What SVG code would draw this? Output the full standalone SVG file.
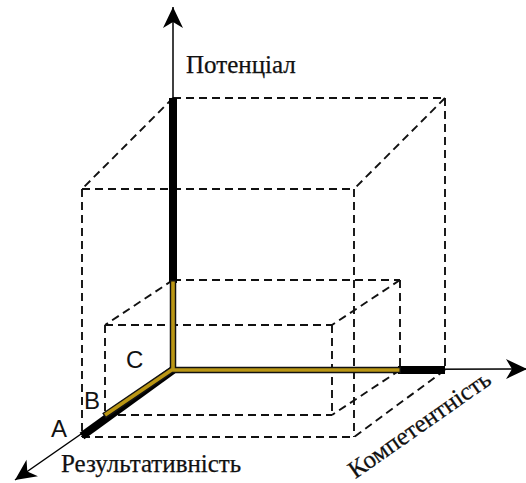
<svg xmlns="http://www.w3.org/2000/svg" width="526" height="483" viewBox="0 0 526 483">
<style>
.dash{fill:none;stroke:#111;stroke-width:1.9;stroke-dasharray:8 5}
.axis{fill:none;stroke:#000;stroke-width:1.5}
.thick{fill:none;stroke:#000;stroke-width:8;stroke-linecap:butt}
.goldo{fill:none;stroke:#111;stroke-width:6.5;stroke-linejoin:miter}
.gold{fill:none;stroke:#BA9614;stroke-width:3.6;stroke-linejoin:miter}
.lab{font-family:'Liberation Serif',serif;font-size:25px;fill:#111;stroke:#111;stroke-width:0.25}
.let{font-family:'Liberation Sans',Arial,sans-serif;font-size:24px;fill:#111}
</style>
<defs>
<marker id="arr" markerUnits="userSpaceOnUse" markerWidth="24" markerHeight="24" viewBox="-22 -11 24 22" refX="0" refY="0" orient="auto">
<path d="M0,0 L-21,-10 L-15,0 L-21,10 Z" fill="#000"/>
</marker>
</defs>
<g id="big-box">
<line class="dash" x1="173" y1="98" x2="445" y2="98"/>
<line class="dash" x1="445" y1="98" x2="445" y2="370"/>
<line class="dash" x1="173" y1="98" x2="82" y2="189"/>
<line class="dash" x1="445" y1="98" x2="354" y2="189"/>
<line class="dash" x1="445" y1="370" x2="354" y2="437"/>
<line class="dash" x1="82" y1="189" x2="354" y2="189"/>
<line class="dash" x1="354" y1="189" x2="354" y2="437"/>
<line class="dash" x1="82" y1="189" x2="82" y2="437"/>
<line class="dash" x1="82" y1="437" x2="354" y2="437"/>
</g>
<g id="small-box">
<line class="dash" x1="173" y1="280" x2="400" y2="280"/>
<line class="dash" x1="400" y1="280" x2="400" y2="370"/>
<line class="dash" x1="173" y1="280" x2="105" y2="325"/>
<line class="dash" x1="400" y1="280" x2="332" y2="325"/>
<line class="dash" x1="400" y1="370" x2="332" y2="415"/>
<line class="dash" x1="105" y1="325" x2="332" y2="325"/>
<line class="dash" x1="332" y1="325" x2="332" y2="415"/>
<line class="dash" x1="105" y1="325" x2="105" y2="415"/>
<line class="dash" x1="105" y1="415" x2="332" y2="415"/>
</g>
<g id="connectors">
<line class="axis" x1="173" y1="370" x2="173" y2="7" marker-end="url(#arr)"/>
<line class="axis" x1="173" y1="370" x2="527" y2="369" marker-end="url(#arr)"/>
<line class="axis" x1="173" y1="370" x2="15" y2="480" marker-end="url(#arr)"/>
<line class="thick" x1="173" y1="98" x2="173" y2="283"/>
<line class="thick" x1="398" y1="370" x2="445" y2="370"/>
<line class="thick" x1="173" y1="370" x2="82" y2="436"/>
<path class="goldo" d="M173,280 L173,370 L401,370 M173,369 L104,416"/>
<path class="gold" d="M173,281.5 L173,370 L399.5,370 M173,369 L105,415"/>
</g>
<g id="labels">
<text class="lab" x="186" y="73">Потенціал</text>
<text class="lab" x="61" y="472">Результативність</text>
<text class="lab" transform="translate(424,431) rotate(-35)" text-anchor="middle">Компетентність</text>
<text class="let" x="51" y="437">A</text>
<text class="let" x="84" y="409">B</text>
<text class="let" x="126" y="368">C</text>
</g>
</svg>
